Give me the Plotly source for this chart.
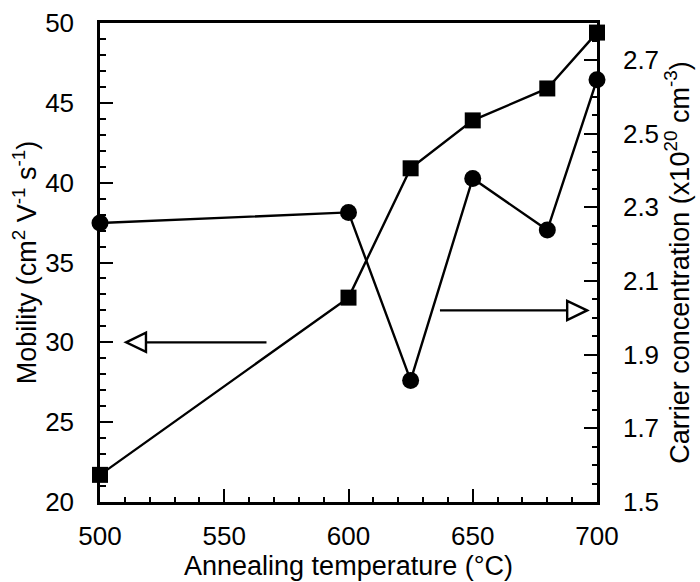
import plotly.graph_objects as go

temperature = [500, 600, 625, 650, 680, 700]
mobility = [21.7, 32.8, 40.9, 43.9, 45.9, 49.4]
carrier = [2.257, 2.286, 1.83, 2.378, 2.238, 2.646]

x_ticks = [500, 550, 600, 650, 700]
y1_ticks = [20, 25, 30, 35, 40, 45, 50]
y2_ticks = [1.5, 1.7, 1.9, 2.1, 2.3, 2.5, 2.7]

FONT = "Liberation Sans, Arial, sans-serif"
TICK_SIZE = 26
TITLE_SIZE = 27

fig = go.Figure()
fig.add_trace(go.Scatter(
    x=temperature, y=mobility, mode="lines+markers",
    line=dict(color="black", width=2.4),
    marker=dict(symbol="square", size=16, color="black"),
    yaxis="y", showlegend=False, cliponaxis=False))
fig.add_trace(go.Scatter(
    x=temperature, y=carrier, mode="lines+markers",
    line=dict(color="black", width=2.4),
    marker=dict(symbol="circle", size=17, color="black"),
    yaxis="y2", showlegend=False, cliponaxis=False))

shapes = []
# left arrow (mobility -> left axis)
shapes.append(dict(type="line", xref="x", yref="y", x0=518, x1=567, y0=30, y1=30,
                   line=dict(color="black", width=2.4)))
shapes.append(dict(type="path", xref="x", yref="y",
                   path="M 510.5 30 L 518.5 30.6 L 518.5 29.4 Z",
                   line=dict(color="black", width=2.4), fillcolor="white"))
# right arrow (carrier -> right axis)
shapes.append(dict(type="line", xref="x", yref="y", x0=636.8, x1=688, y0=32.0, y1=32.0,
                   line=dict(color="black", width=2.4)))
shapes.append(dict(type="path", xref="x", yref="y",
                   path="M 696 32.0 L 688 32.6 L 688 31.4 Z",
                   line=dict(color="black", width=2.4), fillcolor="white"))

axis_common = dict(showgrid=False, zeroline=False, showline=True, linecolor="black",
                   linewidth=2.5, ticks="inside", tickcolor="black", tickwidth=1.5,
                   ticklen=13, automargin=False,
                   tickfont=dict(family=FONT, size=TICK_SIZE, color="black"))

fig.update_layout(
    width=700, height=582,
    margin=dict(l=100, r=103, t=23, b=80),
    paper_bgcolor="white", plot_bgcolor="white",
    font=dict(family=FONT, size=TITLE_SIZE, color="black"),
    shapes=shapes,
    xaxis=dict(**axis_common, range=[500, 700], tickvals=x_ticks, mirror=True,
               minor=dict(dtick=10, tick0=500, ticks="inside", ticklen=5, tickcolor="black", tickwidth=1.5),
               ticklabelstandoff=9,
               title=dict(text="Annealing temperature (°C)", font=dict(family=FONT, size=TITLE_SIZE), standoff=2)),
    yaxis=dict(**axis_common, range=[20, 50], tickvals=y1_ticks,
               minor=dict(dtick=1, tick0=20, ticks="inside", ticklen=6, tickcolor="black", tickwidth=1.5),
               ticklabelstandoff=18,
               title=dict(text="Mobility (cm<sup>2</sup> V<sup>-1</sup> s<sup>-1</sup>)",
                          font=dict(family=FONT, size=TITLE_SIZE), standoff=1)),
    yaxis2=dict(**axis_common, range=[1.5, 2.8], tickvals=y2_ticks, overlaying="y", side="right",
                minor=dict(dtick=0.05, tick0=1.5, ticks="inside", ticklen=5, tickcolor="black", tickwidth=1.5),
                ticklabelstandoff=18,
                title=dict(text="Carrier concentration (x10<sup>20</sup> cm<sup>-3</sup>)",
                           font=dict(family=FONT, size=TITLE_SIZE), standoff=12)),
)

fig.write_html("out.html")
